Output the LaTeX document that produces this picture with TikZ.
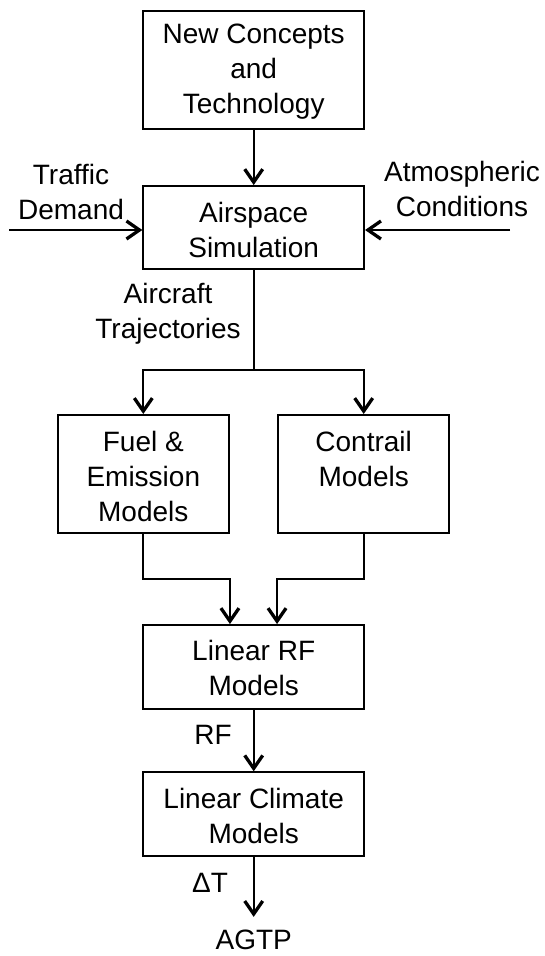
\documentclass[tikz,border=0pt]{standalone}
\usepackage{fontspec}
\setmainfont{Liberation Sans}
\usetikzlibrary{arrows.meta,calc}
\begin{document}
\begin{tikzpicture}[x=1pt,y=-1pt,
  every node/.style={font=\fontsize{28}{35}\selectfont, align=center},
  box/.style={draw, line width=2pt, inner sep=0pt},
  conn/.style={line width=2pt},
  arr/.style={line width=2pt, -{Straight Barb[length=13pt,width=18pt,line width=3.3pt]}},
  txt/.style={inner sep=0pt}]
\useasboundingbox (0,0) rectangle (544,956);
% boxes
\node[box, minimum width=220.7pt, minimum height=118.6pt] (nct) at (253.7,70) {};
\node[txt] (ncttxt) at (253.7,71.5) {New Concepts\\and\\Technology};
\node[box, minimum width=220.7pt, minimum height=83.3pt] (air) at (253.7,227.7) {};
\node[txt] (airtxt) at (253.7,230) {Airspace\\Simulation};
\node[box, minimum width=171.3pt, minimum height=118pt] (fuel) at (143.3,474) {};
\node[txt] (fueltxt) at (143.3,476.5) {Fuel \&\\Emission\\Models};
\node[box, minimum width=171.3pt, minimum height=118pt] (cont) at (363.7,474) {};
\node[txt] (conttxt) at (363.7,459) {Contrail\\Models};
\node[box, minimum width=220.7pt, minimum height=84.3pt] (rf) at (253.7,667.2) {};
\node[txt] (rftxt) at (253.7,668) {Linear RF\\Models};
\node[box, minimum width=220.7pt, minimum height=83.4pt] (clim) at (253.7,814) {};
\node[txt] (climtxt) at (253.7,815.5) {Linear Climate\\Models};
\node[txt] (agtp) at (253.7,940) {AGTP};
% labels
\node[txt] (traffic) at (71,191.5) {Traffic\\Demand};
\node[txt] (atm) at (462,189) {Atmospheric\\Conditions};
\node[txt] (traj) at (168,313.3) {Aircraft\\Trajectories};
\node[txt] (rflab) at (213,735) {RF};
\node[txt] (dt) at (210,882.7) {ΔT};
% connectors
\coordinate (tl) at (9,230);
\coordinate (tr) at (510,230);
\coordinate (sp) at (253.7,370);
\coordinate (jn) at (0,578.7);
\draw[arr] (nct) -- (air);
\draw[arr] (tl) -- (tl -| air.west);
\draw[arr] (tr) -- (tr -| air.east);
\draw[conn] (air.south) -- (sp);
\draw[arr] (sp) -| (fuel.north);
\draw[arr] (sp) -| (cont.north);
\draw[arr] (fuel.south) -- (fuel.south |- jn) -| (fuel.east |- rf.north);
\draw[arr] (cont.south) -- (cont.south |- jn) -| (cont.west |- rf.north);
\draw[arr] (rf) -- (clim);
\draw[arr, shorten >=13pt] (clim) -- (agtp);
\end{tikzpicture}
\end{document}
